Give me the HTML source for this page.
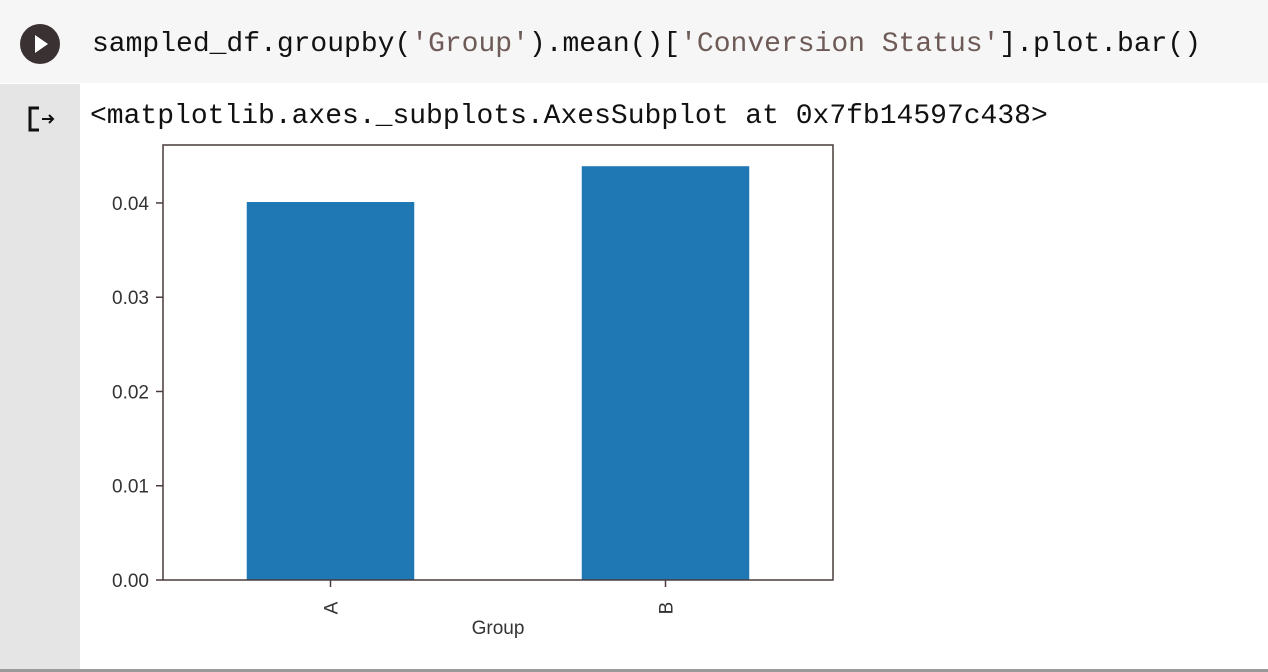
<!DOCTYPE html>
<html><head><meta charset="utf-8"><style>
body{margin:0;width:1268px;height:672px;background:#fff;position:relative;overflow:hidden;font-family:"Liberation Sans",sans-serif}
.code{position:absolute;font-family:"Liberation Mono",monospace;font-size:28px;white-space:pre;color:#111}
.str{color:#6e5a57}
</style></head><body>
<div style="position:absolute;left:0;top:0;width:1268px;height:83px;background:#f6f6f6"></div>
<div style="position:absolute;left:20px;top:24px;width:40px;height:40px;border-radius:50%;background:#3a3132"><div style="position:absolute;left:15px;top:11px;border-left:13px solid #fff;border-top:9px solid transparent;border-bottom:9px solid transparent"></div></div>
<div class="code" style="left:92px;top:29px">sampled_df.groupby(<span class="str">'Group'</span>).mean()[<span class="str">'Conversion Status'</span>].plot.bar()</div>
<div style="position:absolute;left:0;top:84px;width:80px;height:585px;background:#e4e5e4"></div>
<svg style="position:absolute;left:27px;top:106px" width="32" height="30"><path d="M12 2H3v22h9" fill="none" stroke="#111" stroke-width="3"/><path d="M15 13h11M22 9l4 4-4 4" fill="none" stroke="#111" stroke-width="2"/></svg>
<div class="code" style="left:90px;top:101px">&lt;matplotlib.axes._subplots.AxesSubplot at 0x7fb14597c438&gt;</div>
<div style="position:absolute;left:0;top:669px;width:1268px;height:3px;background:#999"></div>
<svg id="chart" style="position:absolute;left:0;top:0" width="1268" height="672"></svg>
<script>
const categories=['A','B'];
const values=[0.0401,0.0439];
const yTicks=[0,0.01,0.02,0.03,0.04];
const yTickLabels=['0.00','0.01','0.02','0.03','0.04'];
const xLabel='Group';
const svg=document.getElementById('chart');
const NS='http://www.w3.org/2000/svg';
const L=163,R=833,T=145,B=580,yMax=0.04615;
const y=v=>B-(v/yMax)*(B-T);
const slot=(R-L)/categories.length;
const x=i=>L+slot*(i+0.5);
const bw=slot*0.5;
function mk(t,a){const e=document.createElementNS(NS,t);for(const k in a)e.setAttribute(k,a[k]);svg.appendChild(e);return e;}
values.forEach((v,i)=>{
 const r=mk('rect',{x:x(i)-bw/2,y:y(v),width:bw,height:B-y(v),fill:'#1f77b4'});
 
 
 mk('line',{x1:x(i),x2:x(i),y1:B,y2:B+7,stroke:'#4a3c3c','stroke-width':1.5});
 const t=mk('text',{x:0,y:0,transform:`translate(${x(i)+7},${B+28}) rotate(-90)`,'font-size':19,fill:'#333','text-anchor':'middle'});
 t.textContent=categories[i];
 
 
});
yTicks.forEach((v,i)=>{
 mk('line',{x1:L-7,x2:L,y1:y(v),y2:y(v),stroke:'#4a3c3c','stroke-width':1.5});
 const t=mk('text',{x:L-14,y:y(v)+7,'font-size':19,fill:'#333','text-anchor':'end'});
 t.textContent=yTickLabels[i];
 
 
});
const f=mk('rect',{x:L,y:T,width:R-L,height:B-T,fill:'none',stroke:'#4a3c3c','stroke-width':1.5});


const xl=mk('text',{x:(L+R)/2,y:634,'font-size':19,fill:'#333','text-anchor':'middle'});
xl.textContent=xLabel;


</script>
</body></html>
